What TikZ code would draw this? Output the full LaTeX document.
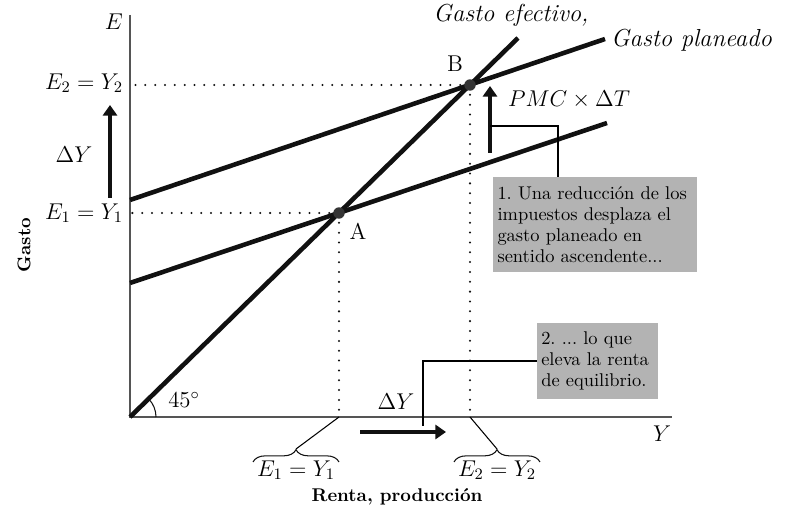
\RequirePackage{fix-cm}
\documentclass[tikz,border=0pt]{standalone}
\usepackage{tikz}
\usetikzlibrary{arrows.meta, calc, positioning, decorations.pathreplacing}
\usepackage{xcolor}
\usepackage{amsmath}
\frenchspacing
\definecolor{Ink}  {HTML}{111111}
\definecolor{AxisG}{HTML}{555555}
\definecolor{BoxF} {HTML}{B3B3B3}
\tikzset{
  axis/.style={draw=AxisG, line width=0.9pt},
  curve/.style={draw=Ink, line width=2.6pt},
  dotline/.style={
    draw=Ink, line width=1.3pt, line cap=round,
    dash pattern=on 0pt off 5.6pt,
  },
  eqpt/.style={circle, fill=Ink!85, inner sep=0pt, minimum size=6.5pt},
  shiftarr/.style={
    -{Triangle[length=6pt,width=8pt]},
    line width=2.6pt, draw=Ink,
  },
  callout/.style={draw=black, line width=0.6pt},
  % grey comment boxes
  note/.style args={#1/#2}{
    rectangle, fill=BoxF, text=black,
    font=\fontsize{10.5}{12}\selectfont, align=left,
    text width=#1, minimum height=#2,
    inner xsep=2.5pt, inner ysep=2pt,
  },
  lab/.style={font=\fontsize{13}{15}\selectfont, inner sep=1pt},
  itlab/.style={font=\fontsize{14}{16}\selectfont\itshape, inner sep=1pt},
  brc/.style={
    decorate, decoration={brace, amplitude=7pt},
    draw=Ink, line width=0.6pt,
  },
  ttl/.style={font=\fontsize{10.5}{12}\selectfont\bfseries, inner sep=1pt},
}

\begin{document}
\begin{tikzpicture}[x=0.02cm, y=-0.02cm]
    \useasboundingbox (0,0) rectangle (789,526);
    \coordinate (O)    at (130,417);
    \coordinate (ytop) at (130,15);
    \coordinate (xend) at (672,417);
    \coordinate (gend) at (518,38);
    \coordinate (p1s)  at (130,283);
    \coordinate (p1e)  at (607,123);
    \coordinate (p2s)  at (130,200);
    \coordinate (p2e)  at (605,39);
    \coordinate (A)    at (339,213);
    \coordinate (B)    at (470,85);

    \draw[dotline] (A) -- (A -| O);
    \draw[dotline] (A) -- (A |- O);
    \draw[dotline] (B) -- (B -| O);
    \draw[dotline] (B) -- (B |- O);

    \draw[axis] (ytop) -- (O) -- (xend);
    \node[lab, anchor=east] (Elab) at (125,22) {$E$};
    \node[lab] (Ylab) at (662,434) {$Y$};

    \draw[curve] (O) -- (gend);
    \draw[curve] (p1s) -- (p1e);
    \draw[curve] (p2s) -- (p2e);
    \node[eqpt] (Apt) at (A) {};
    \node[eqpt] (Bpt) at (B) {};
    \node[lab] (Alab) at (358,231) {A};
    \node[lab] (Blab) at (455,64) {B};

    \draw[line width=0.6pt, draw=Ink] ($(O)+(26,0)$)
        arc[start angle=0, end angle=-44, radius=26];
    \node[lab] (deg) at (184,400) {45$^\circ$};

    \node[itlab] (gef) at (511,15) {Gasto efectivo,};
    \node[itlab, anchor=west] (gpl) at (609,40) {Gasto planeado};

    % vertical axis labels
    \node[lab, anchor=east] (e2) at (125,83) {$E_2 = Y_2$};
    \node[lab, anchor=east] (e1) at (125,213) {$E_1 = Y_1$};
    \node[lab] (dYv) at (74,155) {$\Delta Y$};
    \coordinate (dyb) at (110,198);
    \coordinate (dyt) at (110,105);
    \draw[shiftarr] (dyb) -- (dyt);

    \node[lab, anchor=west] (pmc) at (506,100) {$PMC \times \Delta T$};
    \coordinate (pmcb) at (490,153);
    \coordinate (pmct) at (490,86);
    \draw[shiftarr] (pmcb) -- (pmct);

    % horizontal axis labels
    \node[lab] (dYh) at (396,402) {$\Delta Y$};
    \coordinate (dxl) at (360,432);
    \coordinate (dxr) at (446,432);
    \draw[shiftarr] (dxl) -- (dxr);

    \node[lab] (y1b) at (296,470) {$E_1 = Y_1$};
    \node[lab] (y2b) at (497,470) {$E_2 = Y_2$};
    \draw[brc] (253,462) -- (339,462);
    \draw[brc] (454,462) -- (540,462);
    \coordinate (br1) at (296,449);
    \coordinate (br2) at (497,449);
    \draw[callout] (A |- O) -- (br1);
    \draw[callout] (B |- O) -- (br2);

    \node[note=3.9cm/1.9cm] (n1) at (595,224.5)
        {1. Una reducción de los\\impuestos desplaza el\\gasto planeado en\\sentido ascendente...};
    \node[note=2.25cm/1.52cm] (n2) at (597.5,361)
        {2. ... lo que\\eleva la renta\\de equilibrio.};
    \coordinate (k1) at (558,126);
    \draw[callout] (n1.north -| k1) -- (k1) -- (k1 -| pmcb);
    \coordinate (k2) at (423,426);
    \draw[callout] (n2.west) -| (k2);

    \node[ttl, rotate=90] (gasto) at (24,245) {Gasto};
    \node[ttl] (renta) at (397,497) {Renta, producción};
\end{tikzpicture}
\end{document}
